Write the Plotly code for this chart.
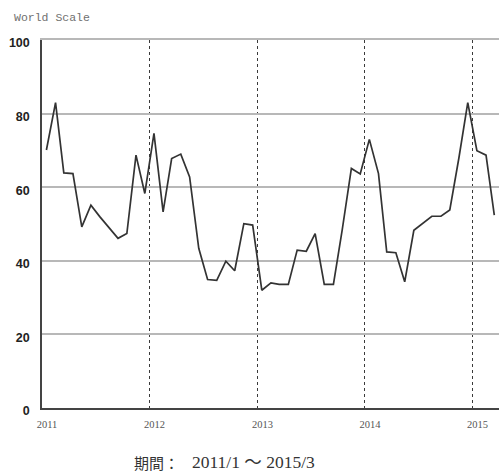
import plotly.graph_objects as go
import pandas as pd

# Monthly values, 2011/1 .. 2015/3
vals_2011 = [70.1, 83.0, 63.9, 63.7, 49.2, 55.1, 52.0, 49.0, 46.1, 47.4, 68.7, 58.3]
vals_2012 = [74.6, 53.3, 67.8, 69.0, 62.8, 43.4, 34.9, 34.7, 39.9, 37.3, 50.1, 49.7]
vals_2013 = [32.0, 34.0, 33.6, 33.6, 42.9, 42.6, 47.4, 33.6, 33.6, 48.5, 65.1, 63.6]
vals_2014 = [73.0, 63.7, 42.4, 42.2, 34.3, 48.3, 50.1, 52.1, 52.1, 53.8, 68.0, 83.0]
vals_2015 = [69.9, 68.7, 52.4]
values = vals_2011 + vals_2012 + vals_2013 + vals_2014 + vals_2015

months = pd.date_range("2011-01-01", periods=len(values), freq="MS") + pd.Timedelta(days=15)
year_ticks = ["2011-01-01", "2012-01-01", "2013-01-01", "2014-01-01", "2015-01-01"]
year_labels = ["2011", "2012", "2013", "2014", "2015"]
y_ticks = [0, 20, 40, 60, 80, 100]
x_range = ["2011-01-01", "2015-04-01"]

fig = go.Figure()
fig.add_trace(go.Scatter(x=months, y=values, mode="lines",
                         line=dict(color="#333333", width=1.7), showlegend=False,
                         hoverinfo="skip"))
# invisible trace so the top border axis is drawn
fig.add_trace(go.Scatter(x=months[:1], y=values[:1], xaxis="x2", mode="lines",
                         line=dict(width=0), showlegend=False, hoverinfo="skip"))

fig.update_layout(
    width=499, height=473,
    margin=dict(l=42, r=0, t=40, b=65),
    plot_bgcolor="white", paper_bgcolor="white",
    xaxis=dict(
        type="date", range=x_range, automargin=False,
        tickvals=year_ticks, ticktext=year_labels,
        showgrid=True, gridcolor="#3a3a3a", gridwidth=1, griddash="dot",
        showline=True, linecolor="#444444", linewidth=1.5,
        ticks="", ticklabelshift=5, ticklabelstandoff=6,
        tickfont=dict(family="Liberation Serif", size=10.5, color="#555555"),
        zeroline=False,
    ),
    xaxis2=dict(
        type="date", range=x_range, overlaying="x", side="top", automargin=False,
        showline=True, linecolor="#b8b8b8", linewidth=1.6,
        showgrid=False, showticklabels=False, ticks="", zeroline=False,
    ),
    yaxis=dict(
        range=[0, 100], tickvals=y_ticks, automargin=False,
        showgrid=True, gridcolor="#b8b8b8", gridwidth=1.6,
        showline=True, linecolor="#444444", linewidth=1.5,
        ticks="", ticklabelstandoff=8, ticklabelshift=3,
        tickfont=dict(family="Liberation Sans", size=12.5, color="#222222", weight="bold"),
        zeroline=False,
    ),
    annotations=[
        dict(text="World Scale", xref="paper", yref="paper", x=-0.065, y=1.06,
             xanchor="left", yanchor="middle", showarrow=False,
             font=dict(family="Liberation Mono", size=11.5, color="#707070")),
        dict(text="期間：", xref="paper", yref="paper", x=0.1969, y=-0.1477,
             xanchor="left", yanchor="middle", showarrow=False,
             font=dict(family="Noto Sans CJK JP", size=15, color="#333333")),
        dict(text="2011/1 ～ 2015/3", xref="paper", yref="paper", x=0.3239, y=-0.1477,
             xanchor="left", yanchor="middle", showarrow=False,
             font=dict(family="Liberation Serif, Noto Sans CJK JP", size=17.5, color="#333333")),
    ],
)

fig.write_html("out.html", config={"displayModeBar": False},
               post_script="document.body.style.margin='0';document.body.style.overflow='hidden';")
